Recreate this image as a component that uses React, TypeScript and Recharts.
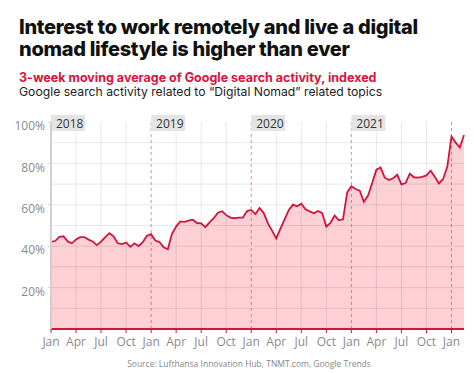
import React from 'react'
import { Area, AreaChart, ReferenceLine, XAxis, YAxis } from 'recharts'

const interest2018 = [
  42.2, 42.5, 44.5, 44.8, 42.3, 41.4, 43.3, 44.4, 44.4, 43.2, 42.3, 40.5,
  42.2, 44.4, 46.3, 44.8, 41.4, 41.0, 41.8, 39.7, 41.4, 40.1, 42.0, 45.0,
]
const interest2019 = [
  45.8, 42.7, 42.0, 39.5, 38.5, 46.0, 49.5, 52.0, 51.8, 52.3, 52.8, 51.2,
  51.0, 49.2, 51.5, 53.5, 56.2, 56.9, 55.0, 53.8, 53.5, 53.8, 53.8, 57.0,
]
const interest2020 = [
  57.5, 55.5, 58.5, 56.0, 51.0, 47.5, 43.8, 48.5, 53.0, 57.5, 60.1, 59.3,
  60.5, 57.8, 56.8, 55.9, 57.0, 56.0, 49.5, 51.3, 54.8, 52.5, 53.0, 66.0,
]
const interest2021 = [
  69.0, 67.6, 66.8, 61.5, 64.5, 70.5, 77.0, 78.0, 73.1, 72.0, 72.8, 74.5,
  69.9, 70.5, 75.0, 73.3, 73.1, 73.5, 74.2, 76.5, 73.5, 70.3, 72.5, 78.5,
]
const interest2022 = [93.0, 90.0, 87.7, 93.7]

const interest = [...interest2018, ...interest2019, ...interest2020, ...interest2021, ...interest2022]

const monthTicks = [0, 3, 6, 9, 12, 15, 18, 21, 24, 27, 30, 33, 36, 39, 42, 45, 48]
const monthLabels = ['Jan', 'Apr', 'Jul', 'Oct']
const yearStarts = [0, 12, 24, 36, 48]
const yearLabels = ['2018', '2019', '2020', '2021']
const gridValues = [10, 20, 30, 40, 50, 60, 70, 80, 90]
const percentTicks = [20, 40, 60, 80, 100]

const data = interest.map((value, i) => ({ month: i / 2, value }))

const RED = '#d3143c'
const GRID = 'rgba(0,0,0,0.09)'

function YearLabel({ viewBox, text }: { viewBox?: { x: number; y: number }; text: string }) {
  if (!viewBox) return null
  return (
    <g>
      <rect x={viewBox.x} y={viewBox.y - 7} width={34} height={16} fill="#e4e4e4" />
      <text x={viewBox.x + 5} y={viewBox.y + 5.5} fontSize={12} fill="#333" fontFamily="Open Sans">
        {text}
      </text>
    </g>
  )
}

export default function App() {
  return (
    <div style={{ position: 'absolute', left: 0, top: 0, width: 474, height: 373, background: '#fff' }}>
      <AreaChart
        width={474}
        height={373}
        data={data}
        margin={{ top: 122, right: 10, left: 11, bottom: 24 }}
      >
        <XAxis
          dataKey="month"
          type="number"
          domain={[0, 49.5]}
          ticks={monthTicks}
          tickFormatter={(m: number) => monthLabels[(m / 3) % 4]}
          height={20}
          axisLine={{ stroke: RED, strokeWidth: 2 }}
          tickLine={{ stroke: RED }}
          tickSize={4}
          tickMargin={4}
          tick={{ fill: '#8a8a8a', fontSize: 12, fontFamily: 'Open Sans' }}
        />
        <YAxis
          type="number"
          domain={[0, 100]}
          ticks={percentTicks}
          tickFormatter={(v: number) => `${v}%`}
          width={40}
          axisLine={{ stroke: '#d0d0d0', strokeWidth: 2 }}
          tickLine={{ stroke: '#d0d0d0' }}
          tickSize={3}
          tickMargin={3}
          tick={{ fill: '#8a8a8a', fontSize: 12, fontFamily: 'Open Sans', dy: 4 }}
        />
        {gridValues.map((v) => (
          <ReferenceLine key={`h${v}`} y={v} stroke={GRID} />
        ))}
        {monthTicks
          .filter((m) => m % 12 !== 0)
          .map((m) => (
            <ReferenceLine key={`v${m}`} x={m} stroke={GRID} />
          ))}
        <Area
          type="linear"
          dataKey="value"
          stroke={RED}
          strokeWidth={1.8}
          fill="#f4364a"
          fillOpacity={0.23}
          isAnimationActive={false}
        />
        <ReferenceLine
          segment={[
            { x: 0, y: 0 },
            { x: 0, y: interest[0] },
          ]}
          stroke={RED}
          strokeWidth={2}
        />
        {yearStarts.slice(1).map((m) => (
          <ReferenceLine
            key={`y${m}`}
            x={m}
            stroke={RED}
            strokeOpacity={0.5}
            strokeDasharray="3 3"
          />
        ))}
        {yearLabels.map((label, i) => (
          <ReferenceLine
            key={label}
            x={yearStarts[i]}
            stroke="none"
            label={(props: any) => <YearLabel viewBox={props.viewBox} text={label} />}
          />
        ))}
      </AreaChart>

      <div
        style={{
          position: 'absolute',
          left: 19,
          top: 16,
          width: 440,
          fontFamily: 'Inter',
          fontWeight: 800,
          fontSize: 20,
          lineHeight: '22px',
          color: '#111',
          letterSpacing: -0.3,
        }}
      >
        Interest to work remotely and live a digital nomad lifestyle is higher than ever
      </div>
      <div
        style={{
          position: 'absolute',
          left: 19,
          top: 70,
          fontFamily: 'Inter',
          fontWeight: 700,
          fontSize: 12.5,
          lineHeight: '15px',
          color: '#e0103c',
          whiteSpace: 'nowrap',
        }}
      >
        3-week moving average of Google search activity, indexed
      </div>
      <div
        style={{
          position: 'absolute',
          left: 19,
          top: 84,
          fontFamily: 'Inter',
          fontSize: 12.2,
          lineHeight: '15px',
          color: '#222',
          whiteSpace: 'nowrap',
        }}
      >
        Google search activity related to “Digital Nomad” related topics
      </div>
      <div
        style={{
          position: 'absolute',
          left: 0,
          width: 498,
          top: 358,
          textAlign: 'center',
          fontFamily: 'Open Sans',
          fontSize: 8.5,
          color: '#888',
          whiteSpace: 'nowrap',
        }}
      >
        Source: Lufthansa Innovation Hub, TNMT.com, Google Trends
      </div>
    </div>
  )
}
